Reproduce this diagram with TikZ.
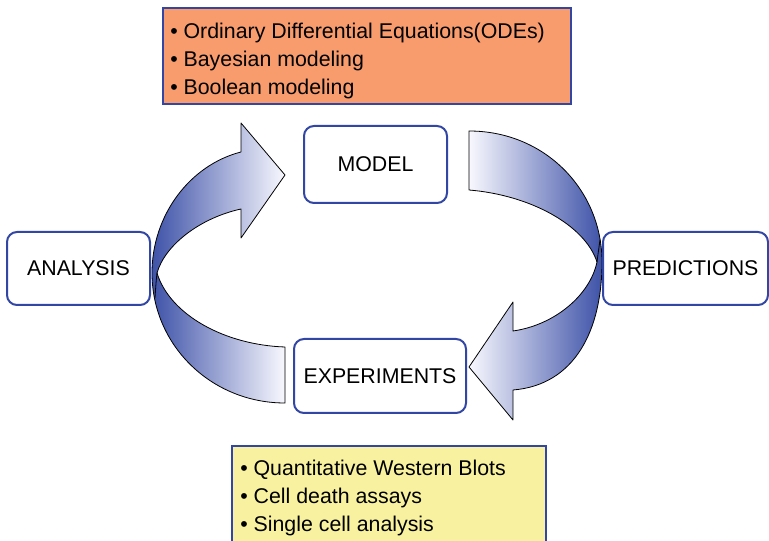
\documentclass[tikz,border=0pt]{standalone}
\usepackage{fontspec}
\setmainfont{Liberation Sans}
\definecolor{boxblue}{RGB}{50,70,165}
\definecolor{arrowblue}{RGB}{62,82,168}
\definecolor{arrowpale}{RGB}{248,248,254}
\definecolor{odeorange}{RGB}{248,156,110}
\definecolor{assayyellow}{RGB}{248,242,160}
\tikzset{
  stagebox/.style={draw=boxblue, line width=1.5pt, rounded corners=7.5pt, fill=white, inner sep=0pt, font=\fontsize{16}{19}\selectfont},
  listbox/.style={draw=boxblue, line width=1.5pt, inner sep=0pt},
  listtext/.style={anchor=west, inner sep=0pt, align=left, font=\fontsize{16}{21}\selectfont},
  ribbon/.style={draw=black, line width=0.6pt, line join=round}
}
\begin{document}
\begin{tikzpicture}[x=0.75pt,y=0.75pt,yscale=-1,xscale=1]
\useasboundingbox (0,0) rectangle (769,541);

%Shape: Curved arrow, analysis to model
\shadedraw [ribbon, left color=arrowblue, right color=arrowpale] (285,403) .. controls (211,403) and (152,345) .. (152,273) .. controls (152,215) and (190,165) .. (241,152) -- (241,123) -- (285,175) -- (241,238) -- (241,209) .. controls (200,218) and (165,245) .. (157,273) .. controls (170,315) and (225,345) .. (285,347) -- cycle ;
\draw [ribbon] (157,273) .. controls (156,282) and (155.5,290) .. (155,298) ;

%Shape: Curved arrow, model to experiments
\shadedraw [ribbon, left color=arrowpale, right color=arrowblue] (469,131) .. controls (545,131) and (602,190) .. (602,262) .. controls (602,330) and (575,385) .. (513,390) -- (513,420) -- (469,367) -- (513,302) -- (513,331) .. controls (555,325) and (590,295) .. (597,262) .. controls (585,225) and (530,195) .. (469,190) -- cycle ;
\draw [ribbon] (597,262) .. controls (598,254) and (599,247) .. (600,240) ;

% Stage boxes
\node [stagebox, minimum width=107.25pt, minimum height=57.75pt] (model) at (375.5,164.5) {MODEL};
\node [stagebox, minimum width=107.25pt, minimum height=54.75pt] (analysis) at (78.5,268.5) {ANALYSIS};
\node [stagebox, minimum width=123.75pt, minimum height=54.75pt] (predictions) at (685.5,268.5) {PREDICTIONS};
\node [stagebox, minimum width=129pt, minimum height=55.5pt] (experiments) at (380,376) {EXPERIMENTS};

% List boxes
\node [listbox, fill=odeorange, minimum width=306pt, minimum height=72pt] (methods) at (367,56) {};
\node [listtext] (methodlist) at (170,60.5) {\textbullet{} Ordinary Differential Equations(ODEs)\\ \textbullet{} Bayesian modeling\\ \textbullet{} Boolean modeling};
\node [listbox, fill=assayyellow, minimum width=235.5pt, minimum height=75pt] (assays) at (389,496) {};
\node [listtext] (assaylist) at (240,498) {\textbullet{} Quantitative Western Blots\\ \textbullet{} Cell death assays\\ \textbullet{} Single cell analysis};

\end{tikzpicture}
\end{document}
